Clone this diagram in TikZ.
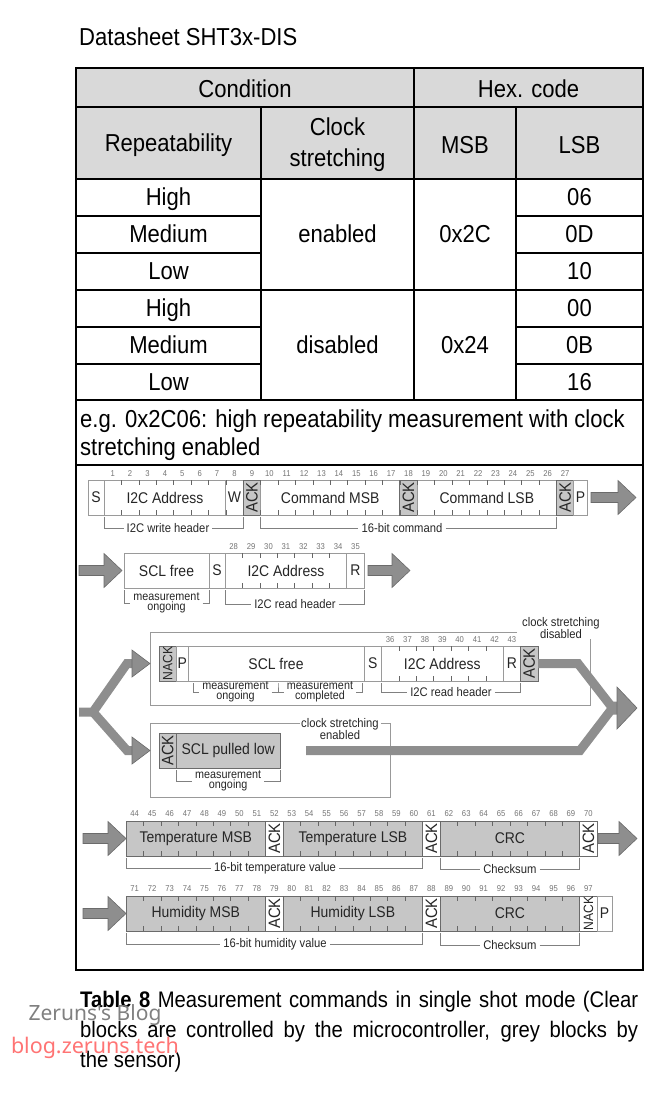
\documentclass[tikz,border=0pt]{standalone}
\usepackage{fontspec}
\setmainfont[FakeStretch=0.9]{Liberation Sans}
\newfontfamily\wmfont{Noto Sans}
\newcommand\fsz[2]{\fontsize{#1}{#2}\selectfont}
\definecolor{headgray}{HTML}{D9D9D9}
\definecolor{fieldgray}{HTML}{C6C6C6}
\definecolor{arrowgray}{HTML}{8E8E8E}
\definecolor{edgegray}{HTML}{6B6B6B}
\definecolor{boxline}{HTML}{9A9A9A}
\definecolor{wmred}{HTML}{FF7474}
\tikzset{
  tbl/.style={line width=1.6pt},
  tbltxt/.style={font=\fsz{24.5}{31}, align=center, inner sep=0pt},
  fld/.style={draw=boxline, fill=white, line width=0.7pt, minimum height=35pt, inner sep=0pt, font=\fsz{15.5}{17}, text=black!85},
  gfld/.style={fld, fill=fieldgray, draw=edgegray},
  ackf/.style={fld, draw=edgegray, rotate=90, minimum width=35pt, minimum height=17.4pt, font=\fsz{16.5}{17}},
  gack/.style={ackf, fill=fieldgray},
  bitnum/.style={font=\fsz{8.5}{9}, text=black!55, inner sep=0pt},
  tick/.style={draw=black!60, line width=0.6pt},
  brk/.style={draw=black!50, line width=0.6pt},
  brklbl/.style={font=\fsz{12.5}{13}, text=black!85, inner sep=3pt},
  mlbl/.style={font=\fsz{12}{10.5}, text=black!85, align=center, inner sep=3pt},
  frm/.style={draw=black!40, line width=0.8pt},
  band/.style={draw=arrowgray, line width=9pt, line join=miter},
  garrow/.style={fill=arrowgray, draw=edgegray, line width=0.6pt}
}
\newcommand\garrowr[3]{%
  \filldraw[garrow] (#1,#3-5) -- (#2-18,#3-5) -- (#2-18,#3-17) -- (#2,#3)
    -- (#2-18,#3+17) -- (#2-18,#3+5) -- (#1,#3+5) -- cycle;}
\begin{document}
\begin{tikzpicture}[x=1pt,y=-1pt]
\useasboundingbox (0,0) rectangle (665,1117);

\node[anchor=west, font=\fsz{24.5}{26}, inner sep=0pt] (title) at (79,37) {Datasheet SHT3x-DIS};

% table
\fill[headgray] (76,68) rectangle (643,179);
\draw[tbl] (76,68) rectangle (643,970);
\draw[tbl] (76,107) -- (643,107) (76,179) -- (643,179) (76,290) -- (643,290)
  (76,400) -- (643,400) (76,465) -- (643,465);
\draw[tbl] (76,216) -- (261,216) (76,253) -- (261,253) (76,327) -- (261,327) (76,364) -- (261,364);
\draw[tbl] (516,216) -- (643,216) (516,253) -- (643,253) (516,327) -- (643,327) (516,364) -- (643,364);
\draw[tbl] (261,107) -- (261,400) (414,68) -- (414,400) (516,107) -- (516,400);

\node[tbltxt] (cond) at (245,89) {Condition};
\node[tbltxt] (hex) at (528.5,89) {Hex. code};
\node[tbltxt] (rep) at (168.5,145) {Repeatability};
\node[tbltxt] (clk) at (337.5,145) {Clock\\stretching};
\node[tbltxt] (msb) at (465,145) {MSB};
\node[tbltxt] (lsb) at (579.5,145) {LSB};
\foreach \t/\y [count=\i] in {High/199.5, Medium/236.5, Low/273.5, High/310.5, Medium/347.5, Low/384}
  \node[tbltxt] (rp\i) at (168.5,\y) {\strut\t};
\foreach \t/\y [count=\i] in {06/199.5, 0D/236.5, 10/273.5, 00/310.5, 0B/347.5, 16/384}
  \node[tbltxt] (ls\i) at (579.5,\y) {\strut\t};
\node[tbltxt] (en) at (337.5,236.5) {\strut enabled};
\node[tbltxt] (dis) at (337.5,347.5) {\strut disabled};
\node[tbltxt] (m2c) at (465,236.5) {\strut 0x2C};
\node[tbltxt] (m24) at (465,347.5) {\strut 0x24};
\node[tbltxt, anchor=west] (eg1) at (80,421) {\strut e.g. 0x2C06: high repeatability measurement with clock};
\node[tbltxt, anchor=west] (eg2) at (80,449) {\strut stretching enabled};

% write command
\node[fld, minimum width=16pt] (s1) at (96,497.5) {S};
\node[fld, minimum width=121.8pt] (adr1) at (164.9,497.5) {I2C Address};
\node[fld, minimum width=17.4pt] (w1) at (234.5,497.5) {W};
\node[gack] (ack1) at (251.9,497.5) {ACK};
\node[fld, minimum width=139.2pt] (cmsb) at (330.2,497.5) {Command MSB};
\node[gack] (ack2) at (408.5,497.5) {ACK};
\node[fld, minimum width=139.2pt] (clsb) at (486.8,497.5) {Command LSB};
\node[gack] (ack3) at (565.1,497.5) {ACK};
\node[fld, minimum width=13.2pt] (p1) at (580.4,497.5) {P};
\foreach \n in {1,...,27}
  \node[bitnum] (bit\n) at (104+\n*17.4-8.7,474) {\n};
\foreach \k in {1,...,26}
  \draw[tick] (104+\k*17.4,480) -- ++(0,5) (104+\k*17.4,515) -- ++(0,-5);
\garrowr{591}{636}{497.5}
\node[brklbl] (wrh) at (168,528) {I2C write header};
\draw[brk] (104,517) |- (wrh.west) (wrh.east) -| (243.2,517);
\node[brklbl] (cmd) at (402,528) {16-bit command};
\draw[brk] (260.6,517) |- (cmd.west) (cmd.east) -| (556.4,517);

% read header
\garrowr{79}{122}{570.5}
\node[fld, minimum width=85pt] (scl2) at (166.5,570.5) {SCL free};
\node[fld, minimum width=16pt] (s2) at (217,570.5) {S};
\node[fld, minimum width=121.8pt] (adr2) at (285.9,570.5) {I2C Address};
\node[fld, minimum width=17.4pt] (r2) at (355.5,570.5) {R};
\foreach \n in {28,...,35}
  \node[bitnum] (bit\n) at (225+\n*17.4-28*17.4+8.7,547) {\n};
\foreach \k in {1,...,6}
  \draw[tick] (225+\k*17.4,553) -- ++(0,5) (225+\k*17.4,588) -- ++(0,-5);
\garrowr{368}{410}{570.5}
\node[mlbl] (mo2) at (166.5,603) {measurement\\ongoing};
\draw[brk] (124,590) |- (mo2.west) (mo2.east) -| (209,590);
\node[brklbl] (rh2) at (295,604) {I2C read header};
\draw[brk] (225,590) |- (rh2.west) (rh2.east) -| (364.2,590);

% clock stretching disabled
\node[mlbl, font=\fsz{12.5}{11}] (csd) at (561,628) {clock stretching\\disabled};
\draw[frm] (517,632) -- (150,632) -- (150,705) -- (590,705) -- (590,639);
\node[ackf, fill=fieldgray, font=\fsz{13.5}{14}] (nack3) at (167.7,663.5) {NACK};
\node[fld, minimum width=11.6pt] (p3) at (182.2,663.5) {P};
\node[fld, minimum width=176pt] (scl3) at (276,663.5) {SCL free};
\node[fld, minimum width=17.4pt] (s3) at (372.7,663.5) {S};
\node[fld, minimum width=121.8pt] (adr3) at (442.3,663.5) {I2C Address};
\node[fld, minimum width=17.4pt] (r3) at (511.9,663.5) {R};
\node[gack] (ack4) at (529.3,663.5) {ACK};
\foreach \n in {36,...,43}
  \node[bitnum] (bit\n) at (381.4+\n*17.4-36*17.4+8.7,640) {\n};
\foreach \k in {1,...,6}
  \draw[tick] (381.4+\k*17.4,646) -- ++(0,5) (381.4+\k*17.4,681) -- ++(0,-5);
\node[mlbl] (mo3) at (235.5,692) {measurement\\ongoing};
\node[mlbl] (mc3) at (320,692) {measurement\\completed};
\draw[brk] (193,683) |- (mo3.west) (mo3.east) -| (278,683) |- (mc3.west) (mc3.east) -| (362,683);
\node[brklbl] (rh3) at (451,692) {I2C read header};
\draw[brk] (381.4,683) |- (rh3.west) (rh3.east) -| (520.6,683);

% clock stretching enabled
\node[mlbl, font=\fsz{12.5}{11}] (cse) at (340,729) {clock stretching\\enabled};
\draw[frm] (300,723) -- (150,723) -- (150,797) -- (390,797) -- (390,723) -- (381,723);
\node[gack] (ack5) at (167.7,750.5) {ACK};
\node[gfld, minimum width=103.6pt] (sclpl) at (228.2,750.5) {SCL pulled low};
\node[mlbl] (mo4) at (228.2,781) {measurement\\ongoing};
\draw[brk] (176.4,770) |- (mo4.west) (mo4.east) -| (280,770);

% fork and merge
\draw[band] (79,712) -- (93,712) -- (127,663.5) -- (133,663.5);
\draw[band] (93,712) -- (127,750.5) -- (133,750.5);
\filldraw[garrow] (132,650) -- (150,663.5) -- (132,677) -- cycle;
\filldraw[garrow] (132,737) -- (150,750.5) -- (132,764) -- cycle;
\draw[band] (538,663.5) -- (578,663.5) -- (611,706) -- (619,706);
\draw[band] (306,750.5) -- (580,750.5) -- (611,710) -- (619,710);
\filldraw[garrow] (617,687) -- (637,708) -- (617,729) -- cycle;

% temperature
\garrowr{83}{126}{838.5}
\node[gfld, minimum width=139.6pt] (tmsb) at (195.8,838.5) {Temperature MSB};
\node[ackf, fill=white] (ack6) at (274.33,838.5) {ACK};
\node[gfld, minimum width=139.6pt] (tlsb) at (352.85,838.5) {Temperature LSB};
\node[ackf, fill=white] (ack7) at (431.38,838.5) {ACK};
\node[gfld, minimum width=139.6pt] (crc1) at (509.9,838.5) {CRC};
\node[ackf, fill=white] (ack8) at (588.43,838.5) {ACK};
\garrowr{598}{637}{838.5}
\foreach \n in {44,...,70}
  \node[bitnum] (bit\n) at (126+\n*17.45-44*17.45+8.7,814) {\n};
\foreach \k in {1,...,26}
  \draw[tick] (126+\k*17.45,821) -- ++(0,5) (126+\k*17.45,856) -- ++(0,-5);
\node[brklbl] (tv) at (275,868) {16-bit temperature value};
\draw[brk] (126,858) |- (tv.west) (tv.east) -| (422.65,858);
\node[brklbl] (cs1) at (509.9,869) {Checksum};
\draw[brk] (440.1,858) |- (cs1.west) (cs1.east) -| (579.7,858);

% humidity
\garrowr{83}{126}{913.5}
\node[gfld, minimum width=139.6pt] (hmsb) at (195.8,913.5) {Humidity MSB};
\node[ackf, fill=white] (ack9) at (274.33,913.5) {ACK};
\node[gfld, minimum width=139.6pt] (hlsb) at (352.85,913.5) {Humidity LSB};
\node[ackf, fill=white] (ack10) at (431.38,913.5) {ACK};
\node[gfld, minimum width=139.6pt] (crc2) at (509.9,913.5) {CRC};
\node[ackf, fill=white, font=\fsz{13.5}{14}] (nack6) at (588.43,913.5) {NACK};
\node[fld, minimum width=14.85pt] (p6) at (604.6,913.5) {P};
\foreach \n in {71,...,97}
  \node[bitnum] (bit\n) at (126+\n*17.45-71*17.45+8.7,889) {\n};
\foreach \k in {1,...,26}
  \draw[tick] (126+\k*17.45,896) -- ++(0,5) (126+\k*17.45,931) -- ++(0,-5);
\node[brklbl] (hv) at (275,944) {16-bit humidity value};
\draw[brk] (126,933) |- (hv.west) (hv.east) -| (422.65,933);
\node[brklbl] (cs2) at (509.9,945) {Checksum};
\draw[brk] (440.1,933) |- (cs2.west) (cs2.east) -| (579.7,933);

% caption
\node[anchor=north west, text width=558pt, align=justify, inner sep=0pt, font=\fsz{22.5}{30}] (cap) at (80,991)
  {\textbf{Table 8} Measurement commands in single shot mode (Clear\linebreak
   blocks are controlled by the microcontroller, grey blocks by\linebreak
   the sensor)};
\node[font=\wmfont\fsz{21}{22}, text=black!50] (wm1) at (95,1015) {Zeruns's Blog};
\node[font=\wmfont\fsz{21.5}{22}, text=wmred] (wm2) at (95,1048) {blog.zeruns.tech};
\end{tikzpicture}
\end{document}
